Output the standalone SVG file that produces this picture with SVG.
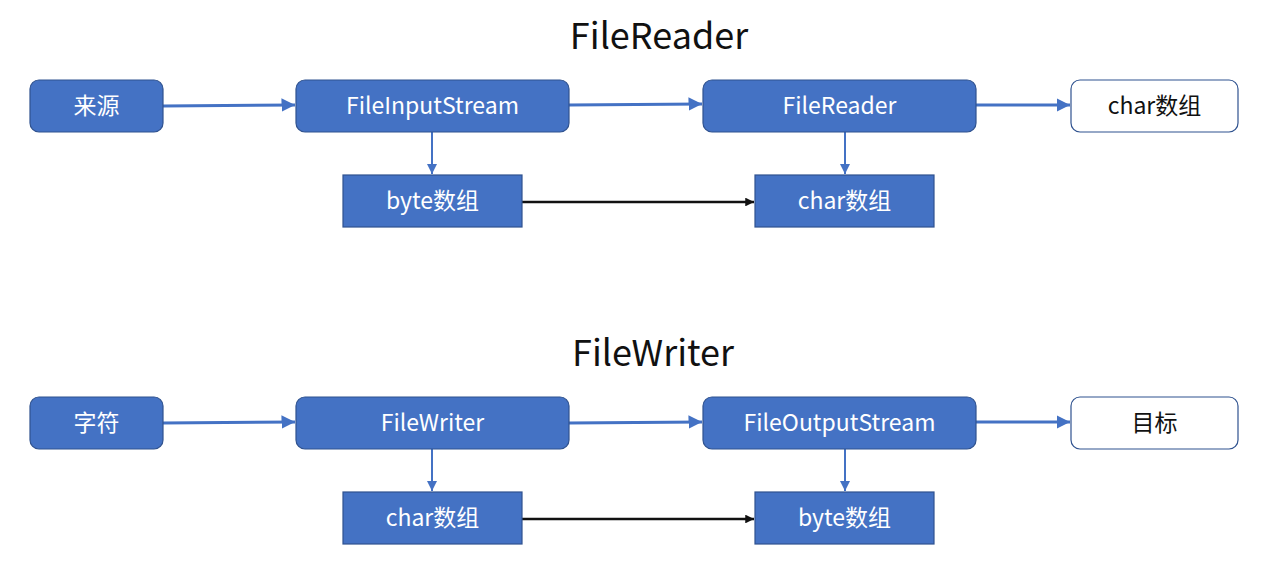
<svg xmlns="http://www.w3.org/2000/svg" width="1282" height="583" viewBox="0 0 1282 583">
<defs>
<style>
.n{fill:#4472C4;stroke:#2F528F;stroke-width:1.2}
.w{fill:#ffffff;stroke:#2F528F;stroke-width:1.2}
.t{font-family:"Noto Sans CJK SC","Noto Sans",sans-serif;font-size:23px;text-anchor:middle;dominant-baseline:central}
.tw{fill:#ffffff}
.tb{fill:#111111}
.title{font-family:"Noto Sans CJK SC","Noto Sans",sans-serif;font-size:36px;text-anchor:middle;fill:#111}
.cb{stroke:#4472C4;stroke-width:3;fill:none}
.cv{stroke:#4472C4;stroke-width:2;fill:none}
.ck{stroke:#111;stroke-width:2.5;fill:none}
</style>
<marker id="ab" viewBox="0 0 10 10" refX="10" refY="5" markerWidth="4.5" markerHeight="4.5" orient="auto" markerUnits="strokeWidth"><path d="M0,0 L10,5 L0,10 z" fill="#4472C4"/></marker>
<marker id="av" viewBox="0 0 10 10" refX="10" refY="5" markerWidth="5" markerHeight="5" orient="auto" markerUnits="strokeWidth"><path d="M0,0 L10,5 L0,10 z" fill="#4472C4"/></marker>
<marker id="ak" viewBox="0 0 10 10" refX="10" refY="5" markerWidth="3.5" markerHeight="3.5" orient="auto" markerUnits="strokeWidth"><path d="M0,0 L10,5 L0,10 z" fill="#111"/></marker>
</defs>
<rect width="1282" height="583" fill="#ffffff"/>
<text class="title" x="659" y="49">FileReader</text>
<text class="title" x="653" y="366">FileWriter</text>
<g id="connectors">
<line class="cb" x1="163" y1="106" x2="295" y2="105" marker-end="url(#ab)"/>
<line class="cb" x1="569" y1="105" x2="702" y2="104" marker-end="url(#ab)"/>
<line class="cb" x1="976" y1="105" x2="1070" y2="105" marker-end="url(#ab)"/>
<line class="cv" x1="432" y1="132" x2="432" y2="174" marker-end="url(#av)"/>
<line class="cv" x1="845" y1="132" x2="845" y2="174" marker-end="url(#av)"/>
<line class="ck" x1="522" y1="202" x2="754" y2="202" marker-end="url(#ak)"/>
<line class="cb" x1="163" y1="423" x2="295" y2="422" marker-end="url(#ab)"/>
<line class="cb" x1="569" y1="423" x2="702" y2="422" marker-end="url(#ab)"/>
<line class="cb" x1="976" y1="422" x2="1070" y2="422" marker-end="url(#ab)"/>
<line class="cv" x1="432" y1="449" x2="432" y2="491" marker-end="url(#av)"/>
<line class="cv" x1="845" y1="449" x2="845" y2="491" marker-end="url(#av)"/>
<line class="ck" x1="522" y1="519" x2="754" y2="519" marker-end="url(#ak)"/>
</g>
<g id="n-source"><rect class="n" x="30" y="80" width="133" height="52" rx="9"/><text class="t tw" x="96.5" y="104">来源</text></g>
<g id="n-fis"><rect class="n" x="296" y="80" width="273" height="52" rx="9"/><text class="t tw" x="432.5" y="104">FileInputStream</text></g>
<g id="n-fr"><rect class="n" x="703" y="80" width="273" height="52" rx="9"/><text class="t tw" x="839.5" y="104">FileReader</text></g>
<g id="n-chararr-out"><rect class="w" x="1071" y="80" width="167" height="52" rx="9"/><text class="t tb" x="1154.5" y="104">char数组</text></g>
<g id="n-bytearr1"><rect class="n" x="343" y="175" width="179" height="52"/><text class="t tw" x="432.5" y="199">byte数组</text></g>
<g id="n-chararr1"><rect class="n" x="755" y="175" width="179" height="52"/><text class="t tw" x="844.5" y="199">char数组</text></g>
<g id="n-chars"><rect class="n" x="30" y="397" width="133" height="52" rx="9"/><text class="t tw" x="96.5" y="421">字符</text></g>
<g id="n-fw"><rect class="n" x="296" y="397" width="273" height="52" rx="9"/><text class="t tw" x="432.5" y="421">FileWriter</text></g>
<g id="n-fos"><rect class="n" x="703" y="397" width="273" height="52" rx="9"/><text class="t tw" x="839.5" y="421">FileOutputStream</text></g>
<g id="n-target"><rect class="w" x="1071" y="397" width="167" height="52" rx="9"/><text class="t tb" x="1154.5" y="421">目标</text></g>
<g id="n-chararr2"><rect class="n" x="343" y="492" width="179" height="52"/><text class="t tw" x="432.5" y="516">char数组</text></g>
<g id="n-bytearr2"><rect class="n" x="755" y="492" width="179" height="52"/><text class="t tw" x="844.5" y="516">byte数组</text></g>
</svg>
